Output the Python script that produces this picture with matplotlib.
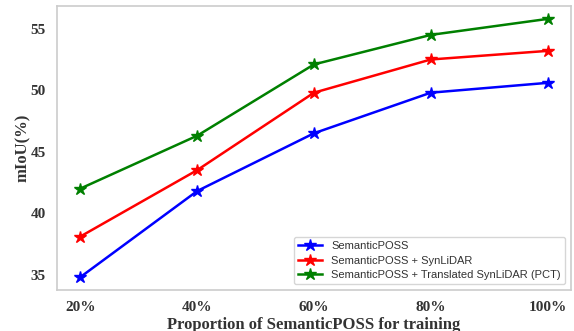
import matplotlib
matplotlib.use("Agg")
import matplotlib.pyplot as plt

categories = ["20%", "40%", "60%", "80%", "100%"]
semposs = [34.8, 41.8, 46.5, 49.8, 50.6]
semposs_syn = [38.1, 43.5, 49.8, 52.5, 53.2]
semposs_pct = [42.0, 46.3, 52.1, 54.5, 55.8]
labels = ["SemanticPOSS", "SemanticPOSS + SynLiDAR", "SemanticPOSS + Translated SynLiDAR (PCT)"]
colors = ["blue", "red", "green"]

fig = plt.figure(figsize=(5.74, 3.31), dpi=100)
ax = fig.add_axes([57/574, 41/331, 514/574, 284/331])
x = list(range(len(categories)))
for vals, lab, c in zip([semposs, semposs_syn, semposs_pct], labels, colors):
    ax.plot(x, vals, color=c, marker="*", markersize=9, linewidth=1.8, label=lab)

ax.set_xticks(x)
ax.set_xticklabels(categories)
ax.set_yticks([35, 40, 45, 50, 55])
serif = {"family": "Liberation Serif", "weight": "bold"}
for t in ax.get_xticklabels() + ax.get_yticklabels():
    t.set_fontfamily("Liberation Serif")
    t.set_fontweight("bold")
    t.set_fontsize(11)
    t.set_color("#333333")
ax.tick_params(length=0, pad=8)
ax.set_ylabel("mIoU(%)", fontsize=12, color="#333333", labelpad=0, **serif)
ax.set_xlabel("Proportion of SemanticPOSS for training", fontsize=12, color="#333333", labelpad=2, **serif)
for s in ax.spines.values():
    s.set_color("#cccccc")
    s.set_linewidth(1.2)
leg = ax.legend(loc="lower right", prop={"family": "Liberation Sans", "size": 8}, frameon=True,
                handlelength=2.2, borderpad=0.4, labelspacing=0.4)
leg.get_frame().set_edgecolor("#cccccc")
for t in leg.get_texts():
    t.set_color("#333333")
fig.savefig("out.png", dpi=100)
